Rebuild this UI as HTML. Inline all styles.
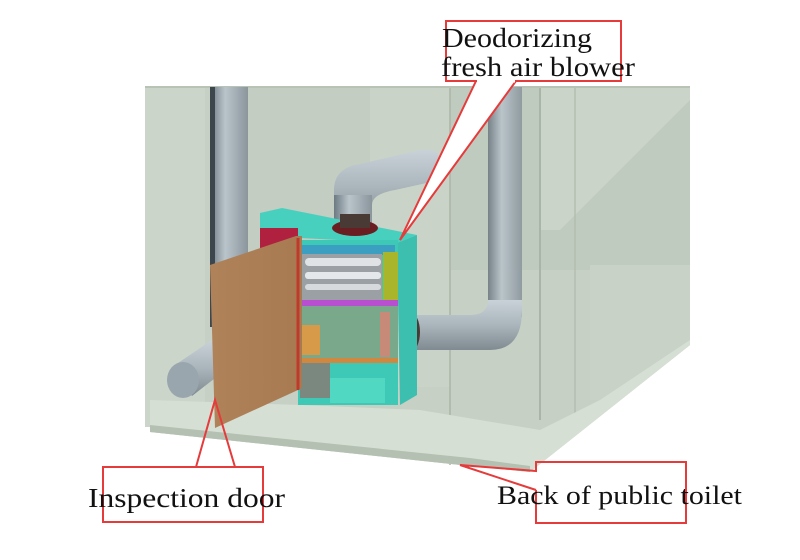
<!DOCTYPE html>
<html><head><meta charset="utf-8"><style>
html,body{margin:0;padding:0;background:#fff;width:800px;height:560px;overflow:hidden}
svg{display:block}
text{font-family:"Liberation Serif",serif;fill:#111}
</style></head><body>
<svg width="800" height="560" viewBox="0 0 800 560" xmlns="http://www.w3.org/2000/svg">
<defs>
<linearGradient id="pv" x1="0" x2="1"><stop offset="0" stop-color="#6e7a82"/><stop offset="0.4" stop-color="#b9c4cb"/><stop offset="1" stop-color="#8a959c"/></linearGradient>
<linearGradient id="ph" x1="0" y1="0" x2="0" y2="1"><stop offset="0" stop-color="#c9d2d8"/><stop offset="0.5" stop-color="#aab5bc"/><stop offset="1" stop-color="#7f8a91"/></linearGradient>
<linearGradient id="door" x1="0" x2="1"><stop offset="0" stop-color="#b0825a"/><stop offset="1" stop-color="#a87a52"/></linearGradient>
</defs>
<rect width="800" height="560" fill="#fff"/>
<!-- enclosure -->
<polygon points="145,87 690,87 690,345 530,472 470,466 150,432" fill="#c6d0c5"/>
<rect x="145" y="87" width="60" height="340" fill="#cbd5ca"/>
<rect x="245" y="87" width="200" height="270" fill="#c3cdc1"/>
<rect x="370" y="87" width="80" height="300" fill="#cad3c8"/>
<polygon points="450,87 690,87 690,345 600,270 450,270" fill="#c0cbbf"/>
<polygon points="540,87 690,87 690,100 560,230 540,230" fill="#cbd4c9"/>
<line x1="540" y1="87" x2="540" y2="420" stroke="#a9b5a7" stroke-width="2"/>
<line x1="575" y1="87" x2="575" y2="430" stroke="#b3beb1" stroke-width="1.5"/>
<line x1="450" y1="87" x2="450" y2="465" stroke="#aab6a8" stroke-width="1.5"/>
<polygon points="590,265 690,265 690,345 620,400 590,400" fill="#c9d2c6"/>
<!-- floor -->
<polygon points="150,400 300,405 420,410 540,430 600,400 690,340 690,345 530,472 470,466 150,432" fill="#d6dfd3"/>
<polygon points="150,425 470,458 530,466 530,472 470,466 150,432" fill="#b4c0b2"/>
<line x1="145" y1="87" x2="690" y2="87" stroke="#b8c3b6" stroke-width="2"/>
<!-- left pipe -->
<rect x="210" y="87" width="38" height="240" fill="url(#pv)"/>
<rect x="210" y="87" width="5" height="240" fill="#3d464c"/>
<!-- left horizontal stub -->
<polygon points="175,365 212,340 228,368 192,396" fill="url(#ph)"/>
<ellipse cx="183" cy="380" rx="16" ry="18" fill="#9aa6ad"/>
<!-- right pipe -->
<rect x="488" y="87" width="34" height="230" fill="url(#pv)" opacity="0.9"/>
<path d="M488 300 Q488 315 470 315 L410 315 L410 350 L490 350 Q522 350 522 310 L522 300 Z" fill="url(#ph)"/>
<ellipse cx="410" cy="332" rx="10" ry="20" fill="#4a3a36"/>
<!-- top pipe -->
<path d="M334 225 L334 190 Q334 168 360 164 L420 150 Q438 147 440 160 L440 180 L395 190 Q372 194 372 205 L372 225 Z" fill="url(#ph)"/>
<rect x="334" y="195" width="38" height="30" fill="url(#pv)"/>
<!-- unit top face -->
<polygon points="260,213 282,208 417,235 397,243 300,238 260,230" fill="#48d0bf"/>
<ellipse cx="355" cy="228" rx="23" ry="8" fill="#6b1e22"/>
<rect x="340" y="214" width="30" height="14" fill="#4a3a36"/>
<!-- side face -->
<polygon points="397,243 417,235 417,395 400,405" fill="#3cbfae"/>
<!-- front face -->
<rect x="298" y="240" width="100" height="165" fill="#3ec8b6"/>
<rect x="300" y="245" width="95" height="10" fill="#3a9fc0"/>
<rect x="302" y="254" width="80" height="48" fill="#9aa0a4"/>
<rect x="305" y="258" width="76" height="8" rx="4" fill="#dfe3e6"/>
<rect x="305" y="272" width="76" height="7" rx="3" fill="#e4e8ea"/>
<rect x="305" y="284" width="76" height="6" rx="3" fill="#d6dadd"/>
<rect x="383" y="252" width="15" height="55" fill="#a9b52a"/>
<rect x="300" y="300" width="98" height="6" fill="#b84fd0"/>
<rect x="300" y="306" width="98" height="55" fill="#7aa88a"/>
<rect x="300" y="325" width="20" height="30" fill="#d79a48"/>
<rect x="380" y="312" width="10" height="45" fill="#c88a78"/>
<rect x="300" y="358" width="98" height="5" fill="#d08840"/>
<rect x="300" y="363" width="30" height="35" fill="#7a8880"/>
<rect x="330" y="378" width="55" height="25" fill="#50d8c2"/>
<rect x="260" y="228" width="38" height="30" fill="#b0213f"/>
<!-- door -->
<polygon points="210,265 296,236 302,236 302,388 298,390 215,428" fill="url(#door)"/>
<line x1="298" y1="238" x2="298" y2="390" stroke="#c0392b" stroke-width="3"/>
<!-- callouts -->
<polygon points="476,81 400,240 516,81" fill="#fff" stroke="#e53b3b" stroke-width="2"/>
<rect x="446" y="21" width="175" height="60" fill="none" stroke="#e53b3b" stroke-width="2"/>
<line x1="477" y1="81" x2="515" y2="81" stroke="#fff" stroke-width="3"/>
<text x="442" y="47" font-size="27" textLength="150" lengthAdjust="spacingAndGlyphs">Deodorizing</text>
<text x="441" y="76" font-size="27" textLength="194" lengthAdjust="spacingAndGlyphs">fresh air blower</text>

<polygon points="196,467 215,400 235,467" fill="none" stroke="#e53b3b" stroke-width="2"/>
<polyline points="196,467 103,467 103,522 263,522 263,467 235,467" fill="none" stroke="#e53b3b" stroke-width="2"/>
<text x="88" y="507" font-size="27" textLength="197" lengthAdjust="spacingAndGlyphs">Inspection door</text>

<polyline points="536,490 460,465 536,471 536,462 686,462 686,523 536,523 536,490" fill="none" stroke="#e53b3b" stroke-width="2"/>
<text x="497" y="504" font-size="26" textLength="245" lengthAdjust="spacingAndGlyphs">Back of public toilet</text>
</svg>
</body></html>
